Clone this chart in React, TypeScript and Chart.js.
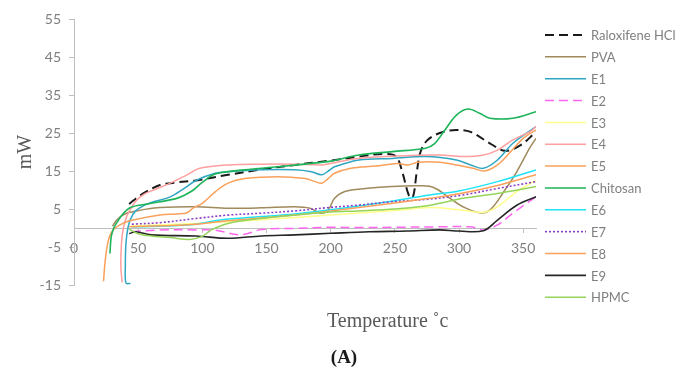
import React, { useEffect, useRef } from 'react';
import { Chart, registerables } from 'chart.js';

Chart.register(...registerables);

// Temperature (°C) / heat flow (mW) readings per sample
const raloxifeneHCl: [number, number][] = [
  [43, 6.3], [45, 6.9], [55, 9.3], [67, 11.3], [80, 12.0], [95, 12.5], [120, 14.0], [146, 15.4], [172, 16.6],
  [199, 17.7], [222, 18.8], [242, 19.5], [251, 18.8], [256, 14.5], [261, 8.5], [264, 8.0], [267, 14.5],
  [270, 20.0], [275, 23.0], [285, 25.0], [298, 25.8], [309, 25.3], [324, 22.3], [336, 20.3], [348, 21.8], [360, 25.3],
];
const pva: [number, number][] = [
  [30, 0.5], [33, 2.0], [37, 3.2], [41, 3.9], [46, 4.3], [55, 4.9], [67, 5.4], [95, 5.6], [120, 5.2], [146, 5.3],
  [172, 5.6], [184, 5.2], [192, 3.9], [198, 4.7], [203, 7.8], [211, 9.6], [227, 10.4], [248, 10.9], [266, 11.1],
  [277, 11.0], [284, 10.0], [293, 7.8], [303, 5.6], [316, 4.0], [324, 4.7], [335, 9.6], [345, 14.8], [355, 21.0], [360, 23.6],
];
const e1: [number, number][] = [
  [44, -14.6], [40.5, -14.5], [40, -10], [40.5, -4], [42, 0], [44, 2.3], [48, 4.5], [55, 6.0], [62, 6.9], [75, 8.2],
  [85, 10.2], [95, 12.5], [110, 14.4], [120, 14.8], [146, 15.3], [172, 15.3], [185, 14.8], [193, 14.0], [199, 15.2],
  [203, 16.1], [222, 17.9], [248, 18.3], [274, 18.8], [298, 17.9], [309, 16.6], [319, 15.7], [330, 17.9], [342, 22.3], [360, 26.7],
];
const e2: [number, number][] = [
  [45, -1.0], [67, -0.5], [95, -0.5], [110, -0.6], [128, -1.8], [136, -1.4], [146, -0.4], [172, -0.1], [200, 0.2],
  [221, 0.1], [250, 0.2], [285, 0.3], [309, 0.3], [319, -0.5], [330, 0.8], [342, 3.9], [360, 8.2],
];
const e3: [number, number][] = [
  [45, 0.5], [95, 1.2], [146, 2.2], [200, 3.4], [250, 4.6], [277, 5.4], [300, 4.8], [319, 4.1], [330, 5.6], [345, 9.6], [360, 12.5],
];
const e4: [number, number][] = [
  [37.5, -14.3], [36.5, -10], [37, -4], [38.5, 0], [41, 3.0], [45, 5.5], [49, 7.4], [55, 9.0], [62, 10.0], [75, 11.8],
  [88, 14.0], [98, 15.7], [120, 16.6], [146, 16.8], [172, 16.8], [193, 16.6], [200, 17.0], [221, 18.3], [248, 18.9],
  [285, 19.2], [303, 18.8], [319, 19.2], [330, 20.5], [342, 23.2], [355, 25.3], [360, 26.7],
];
const e5: [number, number][] = [
  [23, -14], [24.5, -8], [27, -3], [30.5, -0.5], [38, 1.2], [46, 2.1], [67, 3.4], [80, 3.7], [88, 4.0], [93, 5.3],
  [100, 6.5], [110, 9.5], [120, 11.8], [133, 13.0], [159, 13.5], [180, 13.0], [188, 12.2], [193, 11.8], [198, 13.0],
  [203, 14.4], [216, 15.7], [235, 16.3], [252, 17.0], [260, 16.6], [268, 17.3], [285, 17.3], [298, 16.6], [311, 15.7],
  [320, 15.0], [330, 16.6], [340, 20.0], [350, 23.6], [360, 25.8],
];
const chitosan: [number, number][] = [
  [28, -6.7], [29, -2.3], [31, 0], [33, 1.2], [37, 3.2], [41, 4.7], [45, 5.5], [51, 6.0], [67, 6.9], [80, 7.8],
  [87, 8.8], [93, 10.0], [100, 12.0], [110, 14.2], [133, 15.3], [159, 16.1], [185, 17.0], [200, 17.6], [222, 19.2],
  [248, 20.1], [274, 21.0], [281, 22.2], [288, 25.3], [298, 29.7], [307, 31.3], [316, 30.2], [324, 28.9], [342, 28.9], [360, 30.6],
];
const e6: [number, number][] = [
  [45, 0.3], [70, 0.5], [95, 1.0], [114, 2.1], [146, 3.0], [172, 3.7], [200, 4.8], [250, 7.2], [277, 8.7], [298, 9.6], [330, 12.2], [360, 15.3],
];
const e7: [number, number][] = [
  [45, 1.0], [67, 1.4], [95, 2.5], [120, 3.4], [146, 3.9], [172, 4.5], [199, 5.4], [221, 6.0], [247, 6.9], [277, 7.6],
  [303, 8.7], [330, 10.4], [360, 12.2],
];
const e8: [number, number][] = [
  [43, 0.3], [70, 0.6], [95, 1.0], [114, 1.7], [146, 2.6], [172, 3.4], [200, 4.5], [250, 6.6], [277, 7.8], [300, 9.0], [330, 11.2], [360, 14.0],
];
const e9: [number, number][] = [
  [43, -1.5], [48, -1.0], [60, -1.8], [95, -2.1], [120, -2.7], [146, -2.1], [172, -1.8], [200, -1.4], [230, -1.0],
  [260, -0.8], [285, -0.5], [300, -0.8], [319, -0.7], [330, 2.1], [345, 6.0], [360, 8.2],
];
const hpmc: [number, number][] = [
  [43, -0.3], [50, -1.5], [60, -2.1], [75, -2.5], [90, -3.0], [100, -2.2], [107, -0.5], [120, 1.2], [146, 2.5],
  [172, 3.4], [200, 4.2], [221, 4.5], [250, 5.0], [274, 5.8], [285, 6.5], [303, 7.8], [330, 9.1], [360, 10.9],
];

const seriesLabels = ['Raloxifene HCl', 'PVA', 'E1', 'E2', 'E3', 'E4', 'E5', 'Chitosan', 'E6', 'E7', 'E8', 'E9', 'HPMC'];
const seriesData = [raloxifeneHCl, pva, e1, e2, e3, e4, e5, chitosan, e6, e7, e8, e9, hpmc];
const seriesColors = ['#1a1a1a', '#a08a5c', '#2fa6c2', '#ff66f0', '#ffff8c', '#ff9f9f', '#f9a05a', '#1db45a', '#1ee3f5', '#8e3ec6', '#f9a05a', '#262626', '#95d45a'];
const seriesDash: number[][] = [[9, 5], [], [], [9, 5], [], [], [], [], [], [2, 2], [], [], []];
const seriesWidth = [2, 1.5, 1.5, 1.5, 1.5, 1.5, 1.5, 1.6, 1.5, 1.6, 1.5, 1.6, 1.5];

const yTickMin = -15;
const yTickMax = 55;
const yTickStep = 10;
const xMin = 0;
const xMax = 360;
const xTickStep = 50;

const overlayPlugin = {
  id: 'overlay',
  afterDraw(chart: any) {
    const ctx = chart.ctx as CanvasRenderingContext2D;
    ctx.save();
    chart.data.datasets.forEach((ds: any, i: number) => {
      const y = 35 + i * 21.85;
      ctx.beginPath();
      ctx.setLineDash(ds.borderDash || []);
      ctx.strokeStyle = ds.borderColor;
      ctx.lineWidth = ds.borderWidth;
      ctx.moveTo(545, y);
      ctx.lineTo(586, y);
      ctx.stroke();
      ctx.setLineDash([]);
      ctx.fillStyle = '#808080';
      ctx.font = '13px Lato';
      ctx.textAlign = 'left';
      ctx.textBaseline = 'middle';
      ctx.fillText(ds.label, 591, y + 1);
    });
    ctx.fillStyle = '#595959';
    ctx.font = '20px "Liberation Serif"';
    ctx.textAlign = 'left';
    ctx.textBaseline = 'alphabetic';
    ctx.fillText('Temperature ˚c', 327, 327);
    ctx.fillStyle = '#1a1a1a';
    ctx.font = 'bold 19px "Liberation Serif"';
    ctx.textAlign = 'center';
    ctx.fillText('(A)', 344, 363);
    ctx.restore();
  },
};

export default function App() {
  const canvasRef = useRef<HTMLCanvasElement | null>(null);

  useEffect(() => {
    if (!canvasRef.current) return;
    const n = seriesData.length;
    const chart = new Chart(canvasRef.current, {
      type: 'line',
      data: {
        datasets: seriesData.map((pts, i) => ({
          label: seriesLabels[i],
          data: pts.map(([x, y]) => ({ x, y })),
          borderColor: seriesColors[i],
          backgroundColor: seriesColors[i],
          borderWidth: seriesWidth[i],
          borderDash: seriesDash[i],
          pointRadius: 0,
          tension: 0.35,
          fill: false,
          order: n - i,
        })),
      },
      options: {
        responsive: false,
        animation: false,
        layout: { padding: { left: 10, right: 156, top: 19, bottom: 86 } },
        plugins: {
          legend: { display: false },
          tooltip: { enabled: false },
        },
        scales: {
          x: {
            type: 'linear',
            position: { y: 0 } as any,
            min: xMin,
            max: xMax,
            afterFit: (s: any) => { s.height = 0; },
            ticks: {
              stepSize: xTickStep,
              includeBounds: false,
              color: '#7f7f7f',
              font: { family: 'Lato', size: 14 },
              padding: 8,
              maxRotation: 0,
            },
            grid: { display: true, drawOnChartArea: false, drawTicks: true, tickLength: 4, color: '#bfbfbf' },
            border: { display: true, color: '#bfbfbf', width: 1 },
          },
          y: {
            type: 'linear',
            min: yTickMin,
            max: yTickMax,
            afterFit: (s: any) => { s.width = 64; },
            ticks: {
              stepSize: yTickStep,
              color: '#7f7f7f',
              font: { family: 'Lato', size: 14 },
              padding: 8,
            },
            grid: { display: true, drawOnChartArea: false, drawTicks: true, tickLength: 5, color: '#bfbfbf' },
            border: { display: true, color: '#bfbfbf', width: 1 },
            title: {
              display: true,
              text: 'mW',
              color: '#595959',
              font: { family: 'Liberation Serif', size: 20 },
              padding: { top: 4, bottom: 0 },
            },
          },
        },
      },
      plugins: [overlayPlugin],
    });
    return () => chart.destroy();
  }, []);

  return (
    <div style={{ position: 'absolute', left: 0, top: 0, width: 692, height: 371, background: '#ffffff' }}>
      <canvas ref={canvasRef} width={692} height={371} style={{ display: 'block' }} />
    </div>
  );
}
